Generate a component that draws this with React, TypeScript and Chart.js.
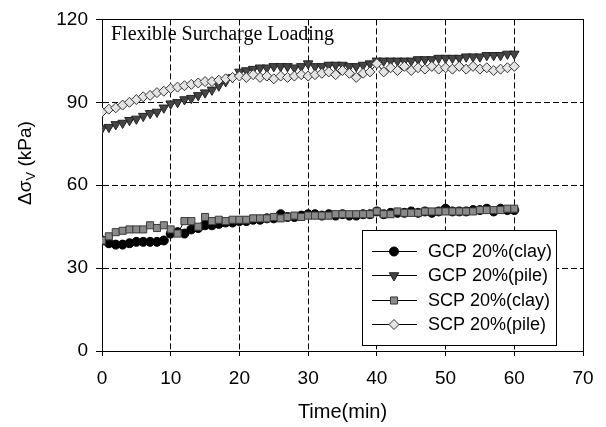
import React, { useEffect, useRef } from 'react';
import { Chart, registerables } from 'chart.js';
import { drawPoint } from 'chart.js/helpers';

Chart.register(...registerables);

// Elapsed time, minutes
const timeMin = [
  0, 1, 2, 3, 4, 5, 6, 7, 8, 9, 10, 11, 12, 13, 14, 15, 16, 17, 18, 19, 20,
  21, 22, 23, 24, 25, 26, 27, 28, 29, 30, 31, 32, 33, 34, 35, 36, 37, 38, 39, 40,
  41, 42, 43, 44, 45, 46, 47, 48, 49, 50, 51, 52, 53, 54, 55, 56, 57, 58, 59, 60,
];

// Vertical stress increment, kPa
const gcpClay = [
  40, 39, 38.5, 38.5, 39, 39.5, 39.5, 39.5, 39.5, 40, 42.5,
  43, 42.5, 44, 44.5, 45.5, 45.5, 46, 46.5, 46.5, 47,
  47, 47.5, 47.5, 48, 48, 49.5, 48.5, 48.5, 49, 49.5,
  49.5, 49, 49.5, 49, 49.5, 49, 49, 49.5, 49.5, 50.5,
  49.5, 50, 50, 50, 50.5, 50, 50.5, 50, 50.5, 51.5,
  50.5, 50.5, 50.5, 51, 51, 51.5, 50.5, 51.5, 51, 51,
];

const gcpPile = [
  80.5, 81, 82, 82.5, 83.5, 84, 85, 86, 86.5, 88, 89.5,
  90, 91, 91.5, 92.5, 93.5, 94.5, 96, 97.5, 99, 101,
  101.5, 102, 102.5, 102.5, 103, 103, 103, 102.5, 103, 104,
  103, 103, 103.5, 103.5, 103.5, 103, 103, 103.5, 104, 105,
  105, 105, 105, 105, 105, 105.5, 105.5, 105.5, 106, 106,
  106, 106, 106.5, 106.5, 106.5, 107, 107, 107, 107.5, 107.5,
];

const scpClay = [
  40, 41.5, 43, 43.5, 44, 44, 44, 45.5, 44.5, 45.5, 44,
  42.5, 47, 47, 45, 48.5, 47, 47.5, 47, 47.5, 47.5,
  47.5, 48, 48, 48, 48.5, 48, 48.5, 49, 48.5, 49,
  49, 49, 49, 49.5, 49.5, 49.5, 49.5, 49.5, 49.5, 50.5,
  49.5, 49.5, 50.5, 50, 50, 50, 50.5, 50.5, 50.5, 50.5,
  50.5, 50.5, 50.5, 50.5, 51, 51, 51, 51, 51.5, 51.5,
];

const scpPile = [
  86.5, 87.5, 88, 89, 90, 91, 92, 92.5, 93.5, 94, 95,
  95.5, 96, 96.5, 97, 97.5, 97.5, 98, 98.5, 99, 99.5,
  99, 100, 99, 99.5, 98.5, 99.5, 99, 99.5, 100, 99.5,
  100, 100.5, 101, 100, 101.5, 100.5, 99, 100.5, 101, 104,
  101, 102.5, 101.5, 103, 101.5, 102.5, 102, 103, 102, 102.5,
  102, 103, 102, 103, 102, 102.5, 101.5, 102, 102.5, 103,
];

const seriesNames = ['GCP 20%(clay)', 'GCP 20%(pile)', 'SCP 20%(clay)', 'SCP 20%(pile)'];

const xTicks = [0, 10, 20, 30, 40, 50, 60, 70];
const yTicks = [0, 30, 60, 90, 120];

const FONT = '"Liberation Sans", Arial, sans-serif';
const SERIF = '"Liberation Serif", "Times New Roman", serif';

const toPoints = (ys: number[]) => timeMin.map((t, i) => ({ x: t, y: ys[i] }));

// Draws the solid frame, the caption, the y-axis title with subscript and the legend box
const decorations = {
  id: 'decorations',
  beforeDatasetsDraw(chart: any) {
    const { ctx, chartArea } = chart;
    ctx.save();
    ctx.strokeStyle = '#000';
    ctx.lineWidth = 1;
    ctx.setLineDash([]);
    ctx.strokeRect(
      Math.round(chartArea.left) + 0.5,
      Math.round(chartArea.top) + 0.5,
      Math.round(chartArea.right - chartArea.left),
      Math.round(chartArea.bottom - chartArea.top)
    );
    ctx.restore();
  },
  afterDraw(chart: any) {
    const { ctx, chartArea } = chart;
    ctx.save();

    // Caption inside the plot
    ctx.fillStyle = '#000';
    ctx.font = `20px ${SERIF}`;
    ctx.textAlign = 'left';
    ctx.textBaseline = 'alphabetic';
    ctx.fillText('Flexible Surcharge Loading', chartArea.left + 9, 40);

    // Y axis title: Δσ with subscript V, then (kPa)
    ctx.translate(31, 163);
    ctx.rotate(-Math.PI / 2);
    const main = `19px ${FONT}`;
    const sub = `13px ${FONT}`;
    ctx.font = main;
    const w1 = ctx.measureText('Δσ').width;
    const w3 = ctx.measureText(' (kPa)').width;
    ctx.font = sub;
    const w2 = ctx.measureText('V').width;
    let x0 = -(w1 + w2 + w3) / 2;
    ctx.font = main;
    ctx.fillText('Δσ', x0, 0);
    x0 += w1;
    ctx.font = sub;
    ctx.fillText('V', x0, 4);
    x0 += w2;
    ctx.font = main;
    ctx.fillText(' (kPa)', x0, 0);
    ctx.restore();

    // Legend
    ctx.save();
    const bx = 362.5, by = 230.5, bw = 194, bh = 115;
    ctx.fillStyle = '#fff';
    ctx.fillRect(bx, by, bw, bh);
    ctx.strokeStyle = '#000';
    ctx.lineWidth = 1;
    ctx.strokeRect(bx, by, bw, bh);
    ctx.font = `18px ${FONT}`;
    ctx.textBaseline = 'middle';
    ctx.textAlign = 'left';
    chart.data.datasets.forEach((ds: any, i: number) => {
      const cy = 251 + i * 24.3;
      ctx.strokeStyle = '#000';
      ctx.lineWidth = 1;
      ctx.beginPath();
      ctx.moveTo(372, Math.round(cy) + 0.5);
      ctx.lineTo(417, Math.round(cy) + 0.5);
      ctx.stroke();
      ctx.fillStyle = ds.pointBackgroundColor;
      ctx.strokeStyle = ds.pointBorderColor;
      ctx.lineWidth = 1;
      drawPoint(ctx, { pointStyle: ds.pointStyle, rotation: ds.pointRotation || 0, radius: ds.pointRadius, borderWidth: 1 }, 394, Math.round(cy) + 0.5);
      ctx.fillStyle = '#000';
      ctx.fillText(ds.label, 428, cy + 1);
    });
    ctx.restore();
  },
};

export default function App() {
  const canvasRef = useRef<HTMLCanvasElement | null>(null);

  useEffect(() => {
    const canvas = canvasRef.current;
    if (!canvas) return;

    const common = { borderColor: '#000', borderWidth: 1, pointBorderWidth: 1, showLine: true, fill: false, tension: 0 };

    const chart = new Chart(canvas, {
      type: 'scatter',
      data: {
        datasets: [
          {
            ...common,
            label: seriesNames[0],
            data: toPoints(gcpClay),
            pointStyle: 'circle',
            pointRadius: 4.5,
            pointBackgroundColor: '#000',
            pointBorderColor: '#000',
            order: 4,
          },
          {
            ...common,
            label: seriesNames[1],
            data: toPoints(gcpPile),
            pointStyle: 'triangle',
            pointRotation: 180,
            pointRadius: 5.5,
            pointBackgroundColor: '#454545',
            pointBorderColor: '#222',
            order: 3,
          },
          {
            ...common,
            label: seriesNames[2],
            data: toPoints(scpClay),
            pointStyle: 'rect',
            pointRadius: 5,
            pointBackgroundColor: '#8a8a8a',
            pointBorderColor: '#3a3a3a',
            order: 2,
          },
          {
            ...common,
            label: seriesNames[3],
            data: toPoints(scpPile),
            pointStyle: 'rectRot',
            pointRadius: 5,
            pointBackgroundColor: '#e4e4e4',
            pointBorderColor: '#333',
            order: 1,
          },
        ] as any,
      },
      options: {
        responsive: false,
        animation: false,
        devicePixelRatio: 1,
        layout: { padding: { top: 15, right: 23, left: 0, bottom: 0 } },
        plugins: {
          legend: { display: false },
          tooltip: { enabled: false },
          title: { display: false },
        },
        scales: {
          x: {
            type: 'linear',
            min: 0,
            max: 70,
            afterFit: (scale: any) => { scale.height = 76; },
            afterBuildTicks: (scale: any) => { scale.ticks = xTicks.map((v) => ({ value: v })); },
            ticks: { color: '#000', font: { family: FONT, size: 19 }, padding: 11, maxRotation: 0 },
            grid: { color: '#000', lineWidth: 1, tickLength: 5 },
            border: { display: true, color: '#000', width: 1, dash: [6, 3] },
            title: { display: true, text: 'Time(min)', color: '#000', font: { family: FONT, size: 20 }, padding: { top: 0, bottom: 3 } },
          },
          y: {
            type: 'linear',
            min: 0,
            max: 120,
            afterFit: (scale: any) => { scale.width = 102; },
            afterBuildTicks: (scale: any) => { scale.ticks = yTicks.map((v) => ({ value: v })); },
            ticks: { color: '#000', font: { family: FONT, size: 19 }, padding: 8 },
            grid: { color: '#000', lineWidth: 1, tickLength: 6 },
            border: { display: true, color: '#000', width: 1, dash: [6, 3] },
          },
        },
      },
      plugins: [decorations],
    });

    return () => chart.destroy();
  }, []);

  return (
    <div style={{ position: 'absolute', left: 0, top: 0, width: 606, height: 427, background: '#fff' }}>
      <canvas ref={canvasRef} width={606} height={427} style={{ width: 606, height: 427, display: 'block' }} />
    </div>
  );
}
